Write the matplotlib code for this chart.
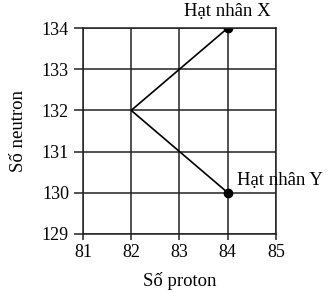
import matplotlib.pyplot as plt

plt.rcParams['font.family'] = ['Liberation Serif', 'DejaVu Serif']

# duong di: X -> trung gian -> Y
path_proton = [84, 82, 84]
path_neutron = [134, 132, 130]

# cac hat nhan danh dau
nuc_proton = [84, 84]
nuc_neutron = [134, 130]
nuc_labels = ['Hạt nhân X', 'Hạt nhân Y']

x_ticks = [81, 82, 83, 84, 85]
y_ticks = [129, 130, 131, 132, 133, 134]

fig = plt.figure(figsize=(3.33, 2.92), dpi=100)
ax = fig.add_axes([0.249, 0.199, 0.580, 0.705])

ax.plot(path_proton, path_neutron, color='black', lw=1.2)
ax.plot(nuc_proton, nuc_neutron, 'o', color='black', ms=6)

ax.annotate(nuc_labels[0], (nuc_proton[0], nuc_neutron[0]), xytext=(0, 8.6),
            textcoords='offset points', ha='center', va='baseline', fontsize=13.5)
ax.annotate(nuc_labels[1], (nuc_proton[1], nuc_neutron[1]), xytext=(6.5, 5.8),
            textcoords='offset points', ha='left', va='baseline', fontsize=13.5)

ax.set_xlim(81, 85)
ax.set_ylim(129, 134)
ax.set_xticks(x_ticks)
ax.set_yticks(y_ticks)
ax.grid(True, color='#222222', lw=1.1)
for s in ax.spines.values():
    s.set_linewidth(1.1)
    s.set_color('#222222')
ax.tick_params(labelsize=13, width=1.1, color='#222222')
ax.tick_params(axis='y', length=6.5, pad=3.5)
ax.tick_params(axis='x', length=4.3, pad=3)

ax.set_xlabel('Số proton', fontsize=13.5, labelpad=8)
ax.set_ylabel('Số neutron', fontsize=13.5, labelpad=11)

fig.savefig('out.png', dpi=100)
